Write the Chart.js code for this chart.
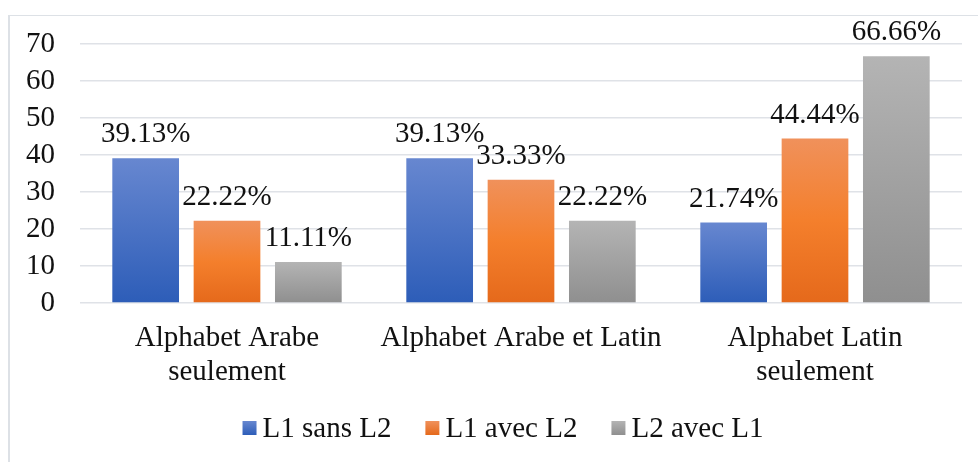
<!DOCTYPE html>
<html>
<head>
<meta charset="utf-8">
<script src="https://cdn.jsdelivr.net/npm/chart.js@4/dist/chart.umd.min.js"></script>
<style>
  html, body { margin: 0; padding: 0; background: #fff; }
  #wrap { position: relative; width: 978px; height: 462px; }
  #frame { position: absolute; left: 8px; top: 15px; width: 980px; height: 460px;
           border-left: 2px solid #dde1e6; border-top: 1px solid #dde1e6; }
  canvas { position: absolute; left: 0; top: 0; }
</style>
</head>
<body>
<div id="wrap">
  <div id="frame"></div>
  <canvas id="myChart" width="978" height="462"></canvas>
</div>
<script>
var categories = [["Alphabet Arabe", "seulement"], "Alphabet Arabe et Latin", ["Alphabet Latin", "seulement"]];
var seriesNames = ["L1 sans L2", "L1 avec L2", "L2 avec L1"];
var l1SansL2 = [39.13, 39.13, 21.74];
var l1AvecL2 = [22.22, 33.33, 44.44];
var l2AvecL1 = [11.11, 22.22, 66.66];
var yTicks = [0, 10, 20, 30, 40, 50, 60, 70];

// top / bottom colour of each gradient (excel style)
var gradColors = [
    ["#6787d0", "#2d5db8"],
    ["#f0915b", "#e5691b"],
    ["#b4b4b4", "#8f8f8f"],
];

var serif = "'Liberation Serif', 'Times New Roman', serif";
var textColor = "#111";

function barGradient(i) {
    return function(c) {
        var chart = c.chart;
        var y = chart.scales.y;
        if (!y || c.parsed === undefined) return gradColors[i][1];
        var top = y.getPixelForValue(c.parsed.y);
        var bottom = y.getPixelForValue(0);
        if (!isFinite(top) || !isFinite(bottom) || top === bottom) return gradColors[i][1];
        var g = chart.ctx.createLinearGradient(0, top, 0, bottom);
        g.addColorStop(0, gradColors[i][0]);
        if (i == 1) g.addColorStop(0.5, "#f47f2c");
        g.addColorStop(1, gradColors[i][1]);
        return g;
    };
}

// value labels above the bars
var valueLabels = {
    id: "valueLabels",
    afterDatasetsDraw: function(chart) {
        var ctx = chart.ctx;
        ctx.save();
        ctx.font = "29px " + serif;
        ctx.fillStyle = textColor;
        ctx.textAlign = "center";
        ctx.textBaseline = "alphabetic";
        chart.data.datasets.forEach(function(ds, di) {
            chart.getDatasetMeta(di).data.forEach(function(bar, i) {
                ctx.fillText(ds.data[i].toFixed(2) + "%", bar.x, bar.y - 16);
            });
        });
        ctx.restore();
    },
};

// excel like legend: small square, short gap, text
var bottomLegend = {
    id: "bottomLegend",
    afterDraw: function(chart) {
        var ctx = chart.ctx;
        ctx.save();
        ctx.font = "29px " + serif;
        ctx.textBaseline = "alphabetic";
        ctx.textAlign = "left";
        var box = 14, gap = 6, spacing = 34;
        var widths = seriesNames.map(function(n) { return ctx.measureText(n).width; });
        var total = 0;
        widths.forEach(function(w) { total += box + gap + w; });
        total += spacing * (seriesNames.length - 1);
        var x = 503 - total / 2;
        var base = 437;
        seriesNames.forEach(function(n, i) {
            var g = ctx.createLinearGradient(0, base - 16, 0, base - 2);
            g.addColorStop(0, gradColors[i][0]);
            g.addColorStop(1, gradColors[i][1]);
            ctx.fillStyle = g;
            ctx.fillRect(x, base - 16, box, box);
            ctx.fillStyle = textColor;
            ctx.fillText(n, x + box + gap, base);
            x += box + gap + widths[i] + spacing;
        });
        ctx.restore();
    },
};

var allSeries = [l1SansL2, l1AvecL2, l2AvecL1];

const ctx = document.getElementById("myChart").getContext("2d");

var myjson = {
    type: "bar",
    data: {
        labels: categories,
        datasets: allSeries.map(function(d, i) {
            return {
                label: seriesNames[i],
                data: d,
                backgroundColor: barGradient(i),
                borderWidth: 0,
                categoryPercentage: 0.83,
                barPercentage: 0.82,
            };
        }),
    },
    options: {
        responsive: false,
        animation: false,
        layout: { padding: { top: 44, right: 16, bottom: 55, left: 0 } },
        scales: {
            x: {
                grid: { display: false, drawTicks: false },
                border: { display: false },
                ticks: {
                    color: textColor,
                    font: { family: serif, size: 29, lineHeight: 1.17 },
                    padding: 18,
                    maxRotation: 0,
                    autoSkip: false,
                },
                afterFit: function(s) { s.height = 104; },
            },
            y: {
                min: 0,
                max: 70,
                afterBuildTicks: function(s) {
                    s.ticks = yTicks.map(function(v) { return { value: v }; });
                },
                afterFit: function(s) { s.width = 80; },
                grid: { color: "#dfe2e7", lineWidth: 1.5, drawTicks: false },
                border: { display: false },
                ticks: {
                    color: textColor,
                    font: { family: serif, size: 29 },
                    padding: 25,
                    autoSkip: false,
                },
            },
        },
        plugins: {
            legend: { display: false },
            tooltip: { enabled: false },
        },
    },
    plugins: [valueLabels, bottomLegend],
};

const myChart = new Chart(ctx, myjson);
</script>
</body>
</html>
